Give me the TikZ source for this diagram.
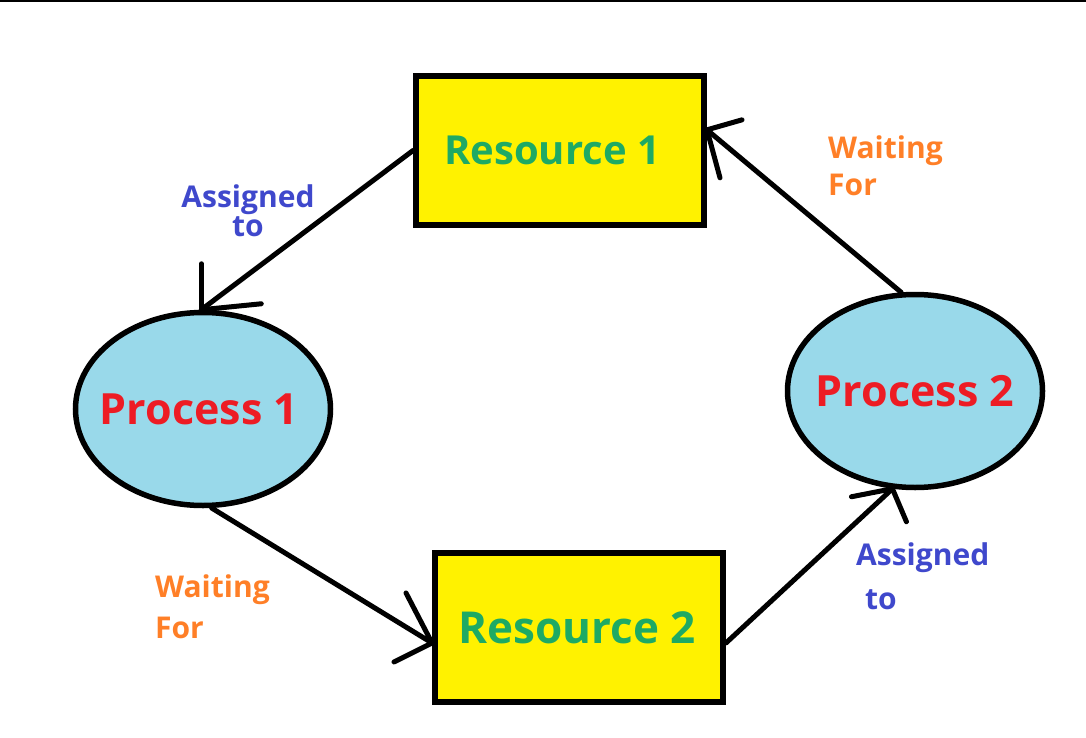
\documentclass[tikz,border=0pt]{standalone}
\usepackage{fontspec}
\setmainfont{Open Sans}
\usetikzlibrary{shapes.geometric}
\definecolor{resyellow}{HTML}{FFF200}
\definecolor{procblue}{HTML}{99D9EA}
\definecolor{resgreen}{HTML}{1EAA64}
\definecolor{procred}{HTML}{ED1C24}
\definecolor{asgblue}{HTML}{3F48CC}
\definecolor{waitorange}{HTML}{FF7F27}
\begin{document}
\begin{tikzpicture}[x=1pt,y=-1pt,
  resbox/.style={draw=black, line width=6pt, fill=resyellow, minimum width=288pt, minimum height=149pt, inner sep=0pt, text=resgreen},
  procell/.style={ellipse, draw=black, line width=5.5pt, fill=procblue, minimum width=255pt, minimum height=193pt, inner sep=0pt, font=\fontsize{43}{50}\selectfont\bfseries, text=procred},
  conn/.style={draw=black, line width=5pt, line cap=round},
  tick/.style={draw=black, line width=5pt, line cap=round},
  asglabel/.style={text=asgblue, font=\fontsize{30}{33}\selectfont\bfseries, inner sep=0pt},
  waitlabel/.style={text=waitorange, font=\fontsize{30}{33}\selectfont\bfseries, inner sep=0pt, align=left}
]
\useasboundingbox (0,0) rectangle (1086,738);
\draw[line width=2pt] (0,1) -- (1086,1);

\node[resbox, font=\fontsize{40}{48}\selectfont\bfseries] (r1) at (560,150.5) {\makebox[0pt]{\hspace*{-16pt}Resource 1}};
\node[resbox, font=\fontsize{44}{52}\selectfont\bfseries] (r2) at (579,627.5) {\makebox[0pt]{\hspace*{-4pt}Resource 2}};
\node[procell] (p1) at (203,409) {\makebox[0pt]{\hspace*{-8pt}Process 1}};
\node[procell] (p2) at (915,391) {\makebox[0pt]{Process 2}};

% Resource 1 assigned to Process 1
\draw[conn] (r1.west) -- (p1.91);
\draw[tick] (p1.91) -- ++(0,-46);
\draw[tick] (p1.91) -- ++(60,-6);

% Process 1 waiting for Resource 2
\draw[conn] (p1.-85) -- (r2.186);
\draw[tick] (r2.186) -- ++(-26,-50);
\draw[tick] (r2.186) -- ++(-38,19);

% Resource 2 assigned to Process 2
\draw[conn] (r2.354) -- (p2.257);
\draw[tick] (p2.257) -- ++(-41,8);
\draw[tick] (p2.257) -- ++(14,33);

% Process 2 waiting for Resource 1
\draw[conn] (p2.98) -- (r1.8);
\draw[tick] (r1.8) -- ++(35,-10);
\draw[tick] (r1.8) -- ++(13,48);

\node[asglabel, align=center] (a1) at (248,211) {Assigned\\[-4pt]to};
\node[waitlabel, anchor=west] (w1) at (828,166) {Waiting\\[4pt]For};
\node[waitlabel, anchor=west] (w2) at (155,607) {Waiting\\[8pt]For};
\node[asglabel, align=left, anchor=west] (a2) at (856,576) {Assigned\\[11pt]\hspace{9pt}to};
\end{tikzpicture}
\end{document}
